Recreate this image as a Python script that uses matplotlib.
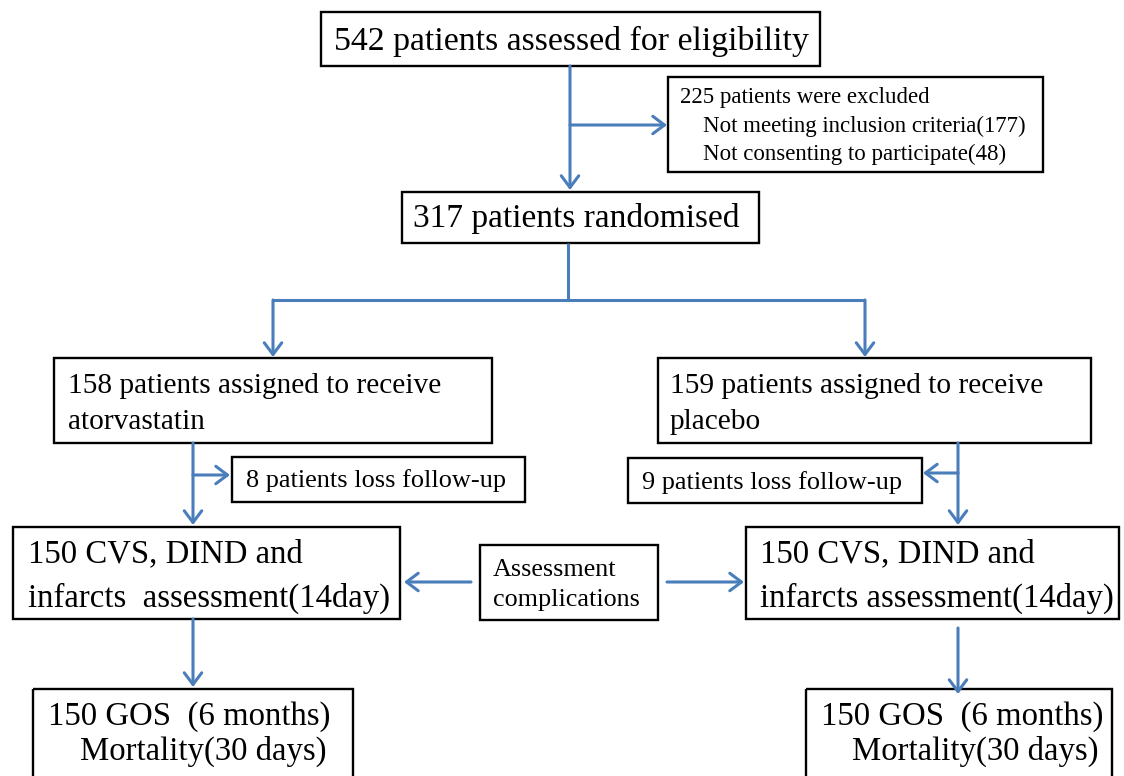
import matplotlib.pyplot as plt
from matplotlib.patches import Rectangle, FancyArrowPatch

plt.rcParams['font.family'] = ['Liberation Serif', 'DejaVu Serif']

W, H = 1124, 776
blue = '#4a7ebb'

# node texts (one string per line)
box_lines = {
    'screen': ['542 patients assessed for eligibility'],
    'excl': ['225 patients were excluded',
             'Not meeting inclusion criteria(177)',
             'Not consenting to participate(48)'],
    'rand': ['317 patients randomised'],
    'atorva': ['158 patients assigned to receive', 'atorvastatin'],
    'placebo': ['159 patients assigned to receive', 'placebo'],
    'loss_l': ['8 patients loss follow-up'],
    'loss_r': ['9 patients loss follow-up'],
    'cvs_l': ['150 CVS, DIND and', 'infarcts  assessment(14day)'],
    'assess': ['Assessment', 'complications'],
    'cvs_r': ['150 CVS, DIND and', 'infarcts assessment(14day)'],
    'gos_l': ['150 GOS  (6 months)', 'Mortality(30 days)'],
    'gos_r': ['150 GOS  (6 months)', 'Mortality(30 days)'],
}

# layout: box (x0, y0, x1, y1), text x per line, text y per line, font size, ha
layout = {
    'screen': ((321, 12, 820, 66), [571], [41], 24.3, 'center'),
    'excl': ((668, 77, 1043, 172), [680, 703, 703], [98, 126, 154], 16.5, 'left'),
    'rand': ((402, 192, 759, 243), [576], [218], 24, 'center'),
    'atorva': ((54, 358, 492, 443), [68, 68], [386, 422], 21.2, 'left'),
    'placebo': ((658, 358, 1091, 443), [670, 670], [386, 422], 21.2, 'left'),
    'loss_l': ((232, 457, 525, 502), [246], [481], 18.9, 'left'),
    'loss_r': ((628, 458, 922, 503), [642], [483], 18.9, 'left'),
    'cvs_l': ((13, 527, 400, 619), [28, 28], [554, 598], 23.6, 'left'),
    'assess': ((480, 545, 658, 620), [493, 493], [570, 600], 18.8, 'left'),
    'cvs_r': ((746, 527, 1119, 619), [760, 760], [554, 598], 23.6, 'left'),
    'gos_l': ((33, 689, 353, 800), [48, 80], [717, 751], 23.6, 'left'),
    'gos_r': ((806, 689, 1112, 800), [821, 852], [717, 751], 23.6, 'left'),
}

# connector paths: (start, end, arrow head at end)
lines = [
    ((570, 66), (570, 190), True),
    ((570, 125), (667, 125), True),
    ((568, 243), (568, 300), False),
    ((273, 300), (865, 300), False),
    ((273, 300), (273, 357), True),
    ((865, 300), (865, 357), True),
    ((193, 443), (193, 525), True),
    ((193, 475), (230, 475), True),
    ((958, 443), (958, 525), True),
    ((958, 473), (923, 473), True),
    ((471, 582), (404, 582), True),
    ((667, 582), (744, 582), True),
    ((193, 619), (193, 687), True),
    ((958, 628), (958, 694), True),
]

fig = plt.figure(figsize=(W / 100, H / 100), dpi=100)
ax = fig.add_axes([0, 0, 1, 1])
ax.set_xlim(0, W)
ax.set_ylim(H, 0)
ax.axis('off')

for key, txt in box_lines.items():
    (x0, y0, x1, y1), xs, ys, fs, ha = layout[key]
    ax.add_patch(Rectangle((x0, y0), x1 - x0, y1 - y0, fill=False,
                           ec='black', lw=1.7))
    for i, t in enumerate(txt):
        ax.text(xs[i], ys[i], t, fontsize=fs, ha=ha, va='center', color='black')

for p0, p1, head in lines:
    if head:
        ax.add_patch(FancyArrowPatch(p0, p1,
                                     arrowstyle='->,head_length=0.6,head_width=0.45',
                                     mutation_scale=14, color=blue, lw=2.2,
                                     shrinkA=0, shrinkB=0))
    else:
        ax.plot([p0[0], p1[0]], [p0[1], p1[1]], color=blue,
                lw=2.2, solid_capstyle='butt')

fig.savefig('out.png', dpi=100)
